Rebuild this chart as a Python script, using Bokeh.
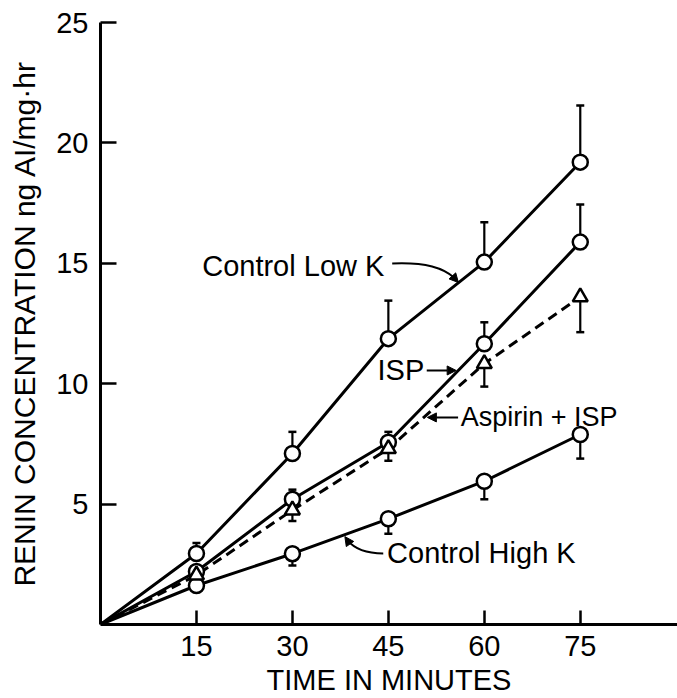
from bokeh.plotting import figure
from bokeh.models import Range1d, FixedTicker, Label, Arrow, NormalHead
from bokeh.embed import file_html
from bokeh.resources import INLINE

# ---- data ----
times = [0, 15, 30, 45, 60, 75]
low_k = [0, 2.95, 7.1, 11.87, 15.05, 19.2]
isp = [0, 2.2, 5.2, 7.57, 11.66, 15.88]
aspirin_isp = [0, 2.05, 4.75, 7.3, 10.83, 13.6]
high_k = [0, 1.62, 2.94, 4.39, 5.95, 7.89]

err_times = [15, 30, 45, 60, 75]
low_k_err_top = [3.38, 8.0, 13.45, 16.7, 21.55]
isp_err_top = [2.4, 5.6, 8.0, 12.55, 17.44]
aspirin_err_bottom = [1.8, 4.3, 6.8, 9.88, 12.14]
high_k_err_bottom = [1.4, 2.45, 3.77, 5.2, 6.89]

x_ticks = [15, 30, 45, 60, 75]
y_ticks = [5, 10, 15, 20, 25]

FONT = "Liberation Sans"

p = figure(frame_width=577, frame_height=602, output_backend="svg", toolbar_location=None,
           x_range=Range1d(0, 90.2), y_range=Range1d(0, 25),
           min_border_left=100, min_border_right=0, min_border_top=22, min_border_bottom=74)
p.outline_line_color = None
p.grid.visible = False
p.background_fill_color = "white"

for ax in (p.xaxis[0], p.yaxis[0]):
    ax.axis_line_width = 3
    ax.axis_line_color = "black"
    ax.major_tick_line_width = 2.5
    ax.major_tick_line_color = "black"
    ax.major_tick_out = 0
    ax.minor_tick_line_color = None
    ax.major_label_text_font = FONT
    ax.major_label_text_font_size = "29px"
    ax.major_label_text_color = "black"
    ax.axis_label_text_font = FONT
    ax.axis_label_text_font_style = "normal"
    ax.axis_label_text_color = "black"

p.xaxis.ticker = FixedTicker(ticks=x_ticks)
p.yaxis.ticker = FixedTicker(ticks=y_ticks)
p.xaxis.major_tick_in = 14
p.yaxis.major_tick_in = 16
p.xaxis.major_label_standoff = 11
p.yaxis.major_label_standoff = 12
p.xaxis.axis_label = "TIME IN MINUTES"
p.xaxis.axis_label_text_font_size = "29px"
p.xaxis.axis_label_standoff = 5
p.yaxis.axis_label = "RENIN CONCENTRATION ng AI/mg\u00b7hr"
p.yaxis.axis_label_text_font_size = "30px"
p.yaxis.axis_label_standoff = 12

LW = 3
# lines
p.line(times, low_k, line_width=LW, color="black")
p.line(times, isp, line_width=LW, color="black")
p.line(times, high_k, line_width=LW, color="black")
p.line(times, aspirin_isp, line_width=LW, color="black", line_dash="10 6")

# error bars
def errbars(ys, ends):
    p.segment(x0=err_times, y0=ys[1:], x1=err_times, y1=ends, line_width=2.2, color="black")
    p.scatter(err_times, ends, marker="dash", size=8, line_width=2.5, color="black")

errbars(low_k, low_k_err_top)
errbars(isp, isp_err_top)
errbars(aspirin_isp, aspirin_err_bottom)
errbars(high_k, high_k_err_bottom)

# markers
for ys in (low_k, isp, high_k):
    p.scatter(err_times, ys[1:], marker="circle", size=15, fill_color="white",
              line_color="black", line_width=2.5)
p.scatter(err_times, aspirin_isp[1:], marker="triangle", size=15, fill_color="white",
          line_color="black", line_width=2.5)

# annotations
def lab(x, y, text, size="29px"):
    p.add_layout(Label(x=x, y=y, text=text, text_font=FONT, text_font_size=size,
                       text_align="left", text_baseline="middle", text_color="black"))

lab(15.9, 14.9, "Control Low K")
lab(43.3, 10.55, "ISP")
lab(56.3, 8.6, "Aspirin + ISP", "27px")
lab(44.8, 2.95, "Control High K")

head = lambda: NormalHead(size=9, fill_color="black", line_color="black", line_width=1)

# Control Low K leader
p.bezier(x0=[45.6], y0=[14.99], x1=[55.3], y1=[14.4], cx0=[51.0], cy0=[15.05],
         cx1=[53.6], cy1=[14.8], line_width=2, color="black")
p.add_layout(Arrow(end=head(), x_start=55.1, y_start=14.45, x_end=55.95, y_end=14.2,
                   line_width=2, line_color="black"))
# ISP leader
p.add_layout(Arrow(end=head(), x_start=51.0, y_start=10.55, x_end=55.6, y_end=10.55,
                   line_width=2, line_color="black"))
# Aspirin + ISP leader
p.add_layout(Arrow(end=head(), x_start=55.9, y_start=8.6, x_end=51.1, y_end=8.6,
                   line_width=2, line_color="black"))
# Control High K leader
p.bezier(x0=[44.2], y0=[2.95], x1=[38.6], y1=[3.5], cx0=[41.2], cy0=[2.95],
         cx1=[39.5], cy1=[3.2], line_width=2, color="black")
p.add_layout(Arrow(end=head(), x_start=38.8, y_start=3.42, x_end=38.2, y_end=3.65,
                   line_width=2, line_color="black"))

open("out.html", "w").write(file_html(p, INLINE))
